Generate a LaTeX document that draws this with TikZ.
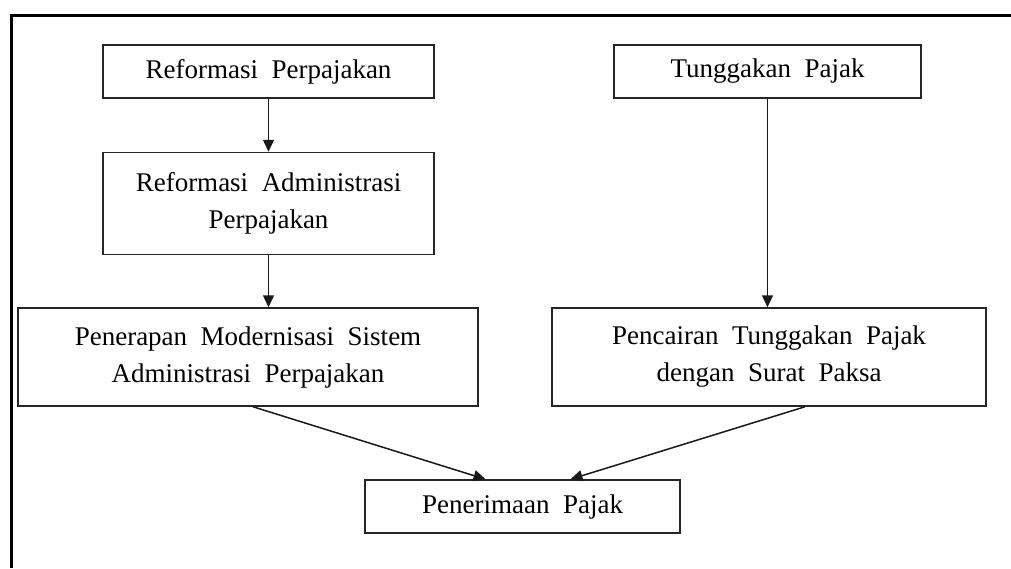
\documentclass[tikz,border=0pt]{standalone}
\usepackage{fontspec}
\setmainfont{Liberation Serif}[WordSpace=2]
\usetikzlibrary{arrows.meta}

\begin{document}
\begin{tikzpicture}[x=1pt, y=-1pt,
  every node/.style={font=\fontsize{27}{37}\selectfont},
  box/.style={draw=black!85, line width=1.5pt, align=center, inner sep=0pt},
  arr/.style={-{Triangle[length=12pt, width=11pt]}, line width=1.5pt, black!90},
  frame/.style={line width=3pt, black},
]
  \useasboundingbox (0,0) rectangle (1011,568);
  \draw[frame] (1011,15) -- (11,15) -- (11,568);

  \node[box, minimum width=331pt, minimum height=53pt] (rp) at (268.5, 71.5)
    {Reformasi Perpajakan};
  \node[box, minimum width=307pt, minimum height=53pt] (tp) at (767.5, 71.5)
    {Tunggakan Pajak};
  \node[box, minimum width=331pt, minimum height=102pt] (ra) at (268.5, 203.5)
    {Reformasi Administrasi\\Perpajakan};
  \node[box, minimum width=460pt, minimum height=98pt] (pm) at (248, 357)
    {Penerapan Modernisasi Sistem\\Administrasi Perpajakan};
  \node[box, minimum width=434pt, minimum height=98pt] (pc) at (769, 357)
    {Pencairan Tunggakan Pajak\\dengan Surat Paksa};
  \node[box, minimum width=315pt, minimum height=53pt] (ter) at (522.5, 506.5)
    {Penerimaan Pajak};

  \draw[arr] (rp.south) -- (ra.north);
  \draw[arr] (ra.south) -- (ra.south |- pm.north);
  \draw[arr] (tp.south) -- (tp.south |- pc.north);
  \draw[arr] ([xshift=5pt]pm.south) -- ([xshift=-37pt]ter.north);
  \draw[arr] ([xshift=36pt]pc.south) -- ([xshift=48pt]ter.north);
\end{tikzpicture}
\end{document}
